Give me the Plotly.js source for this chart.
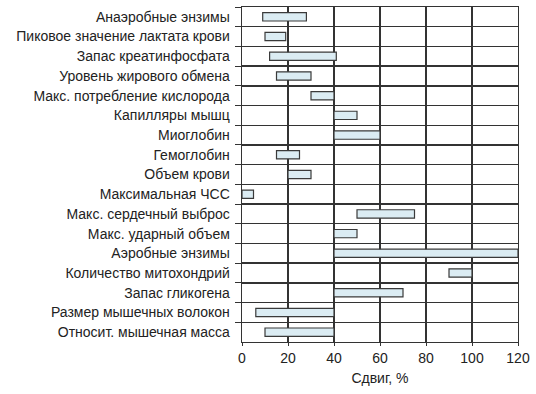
<!DOCTYPE html>
<html>
<head>
<meta charset="utf-8">
<script src="https://cdn.plot.ly/plotly-3.0.1.min.js"></script>
<style>html,body{margin:0;padding:0;background:#fff;}#chart{width:536px;height:394px;}</style>
</head>
<body>
<div id="chart"></div>
<script>
var categories = [
  "Анаэробные энзимы",
  "Пиковое значение лактата крови",
  "Запас креатинфосфата",
  "Уровень жирового обмена",
  "Макс. потребление кислорода",
  "Капилляры мышц",
  "Миоглобин",
  "Гемоглобин",
  "Объем крови",
  "Максимальная ЧСС",
  "Макс. сердечный выброс",
  "Макс. ударный объем",
  "Аэробные энзимы",
  "Количество митохондрий",
  "Запас гликогена",
  "Размер мышечных волокон",
  "Относит. мышечная масса"
];
var startValues = [9, 10, 12, 15, 30, 40, 40, 15, 20, 0, 50, 40, 40, 90, 40, 6, 10];
var endValues   = [28, 19, 41, 30, 40, 50, 60, 25, 30, 5, 75, 50, 120, 100, 70, 40, 40];
var xTicks = [0, 20, 40, 60, 80, 100, 120];

var lengths = endValues.map(function (e, i) { return e - startValues[i]; });

var trace = {
  type: "bar",
  orientation: "h",
  y: categories,
  x: lengths,
  base: startValues,
  width: 0.42,
  marker: { color: "#dbecf3", line: { color: "#3a3a3a", width: 1.2 } },
  hoverinfo: "skip"
};

var layout = {
  width: 536,
  height: 394,
  margin: { l: 242, r: 18, t: 7, b: 52 },
  paper_bgcolor: "#ffffff",
  plot_bgcolor: "#ffffff",
  showlegend: false,
  font: { family: "Liberation Sans, Arial, sans-serif", size: 14, color: "#222222" },
  xaxis: {
    range: [0, 120],
    tickvals: xTicks,
    ticktext: xTicks.map(String),
    showgrid: true,
    gridcolor: "#333333",
    gridwidth: 1.4,
    zeroline: false,
    showline: true,
    linecolor: "#333333",
    linewidth: 1.4,
    mirror: true,
    ticks: "outside",
    ticklen: 3,
    tickcolor: "#333333",
    tickfont: { size: 14 },
    title: { text: "Сдвиг, %", font: { size: 14 }, standoff: 8 }
  },
  yaxis: {
    type: "category",
    autorange: "reversed",
    tickson: "boundaries",
    showgrid: true,
    gridcolor: "#333333",
    gridwidth: 1.4,
    showline: true,
    linecolor: "#333333",
    linewidth: 1.4,
    mirror: true,
    ticks: "outside",
    ticklen: 6,
    tickcolor: "#333333",
    ticklabelstandoff: 8,
    tickfont: { size: 14 }
  }
};

Plotly.newPlot("chart", [trace], layout, { displayModeBar: false, staticPlot: true });
</script>
</body>
</html>
